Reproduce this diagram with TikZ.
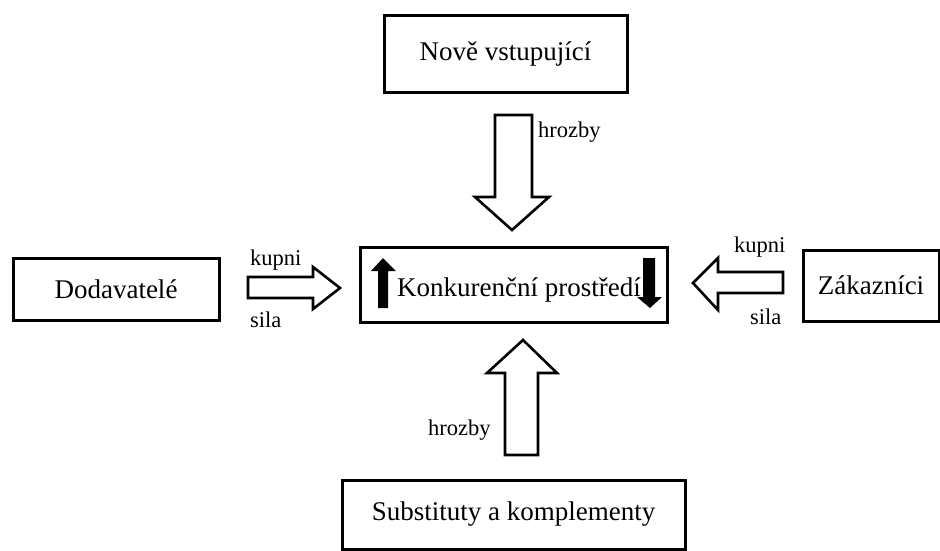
\documentclass[tikz,border=0pt]{standalone}
\usepackage{fontspec}
\setmainfont{Liberation Serif}
\begin{document}
\begin{tikzpicture}[x=1pt,y=-1pt,
  box/.style={draw=black,line width=3pt,fill=white,inner sep=0pt,font=\fontsize{27}{31}\selectfont},
  lbl/.style={inner sep=0pt,font=\fontsize{22.5}{26}\selectfont},
  blockarrow/.style={draw=black,line width=2.6pt,fill=white,line join=miter},
  solidarrow/.style={fill=black,draw=none}]
\useasboundingbox (0,0) rectangle (940,550);
% boxes
\node[box,minimum width=243pt,minimum height=77pt] (new) at (505.5,54) {Nově vstupující};
\node[box,minimum width=307pt,minimum height=75pt] (comp) at (513.5,284.5) {};
\node[font=\fontsize{27}{31}\selectfont,inner sep=0pt] (comptext) at (519,290) {Konkurenční prostředí};
\node[box,minimum width=206pt,minimum height=62pt] (sup) at (116,289) {Dodavatelé};
\node[box,minimum width=136pt,minimum height=71pt] (cust) at (871,285.5) {Zákazníci};
\node[box,minimum width=343pt,minimum height=69pt] (subst) at (513.5,514.5) {Substituty a komplementy};
% block arrows
\coordinate (la) at (248,277);
\draw[blockarrow] (la) -- (313,277) -- (313,267) -- (340,288) -- (313,309) -- (313,298) -- (248,298) -- cycle;
\coordinate (ra) at (783,272);
\draw[blockarrow] (ra) -- (718,272) -- (718,258) -- (693,283) -- (718,310) -- (718,293) -- (783,293) -- cycle;
\coordinate (ta) at (495,115);
\draw[blockarrow] (ta) -- (532,115) -- (532,197) -- (549,197) -- (512,230) -- (475,197) -- (495,197) -- cycle;
\coordinate (ba) at (505,455);
\draw[blockarrow] (ba) -- (505,373) -- (487,373) -- (523,340) -- (557,373) -- (538,373) -- (538,455) -- cycle;
% solid arrows in the centre box
\fill[solidarrow] (378,308) -- (378,271) -- (371,271) -- (383,258) -- (396,271) -- (388,271) -- (388,308) -- cycle;
\fill[solidarrow] (643,258) -- (655,258) -- (655,297) -- (662,297) -- (650,308) -- (637,297) -- (643,297) -- cycle;
% labels
\node[lbl,anchor=west] (k1) at (250,260) {kupni};
\node[lbl,anchor=west] (s1) at (250,320) {sila};
\node[lbl,anchor=west] (k2) at (734,247) {kupni};
\node[lbl,anchor=west] (s2) at (750,317) {sila};
\node[lbl,anchor=west] (h1) at (538,132) {hrozby};
\node[lbl,anchor=west] (h2) at (428,430) {hrozby};
\end{tikzpicture}
\end{document}
